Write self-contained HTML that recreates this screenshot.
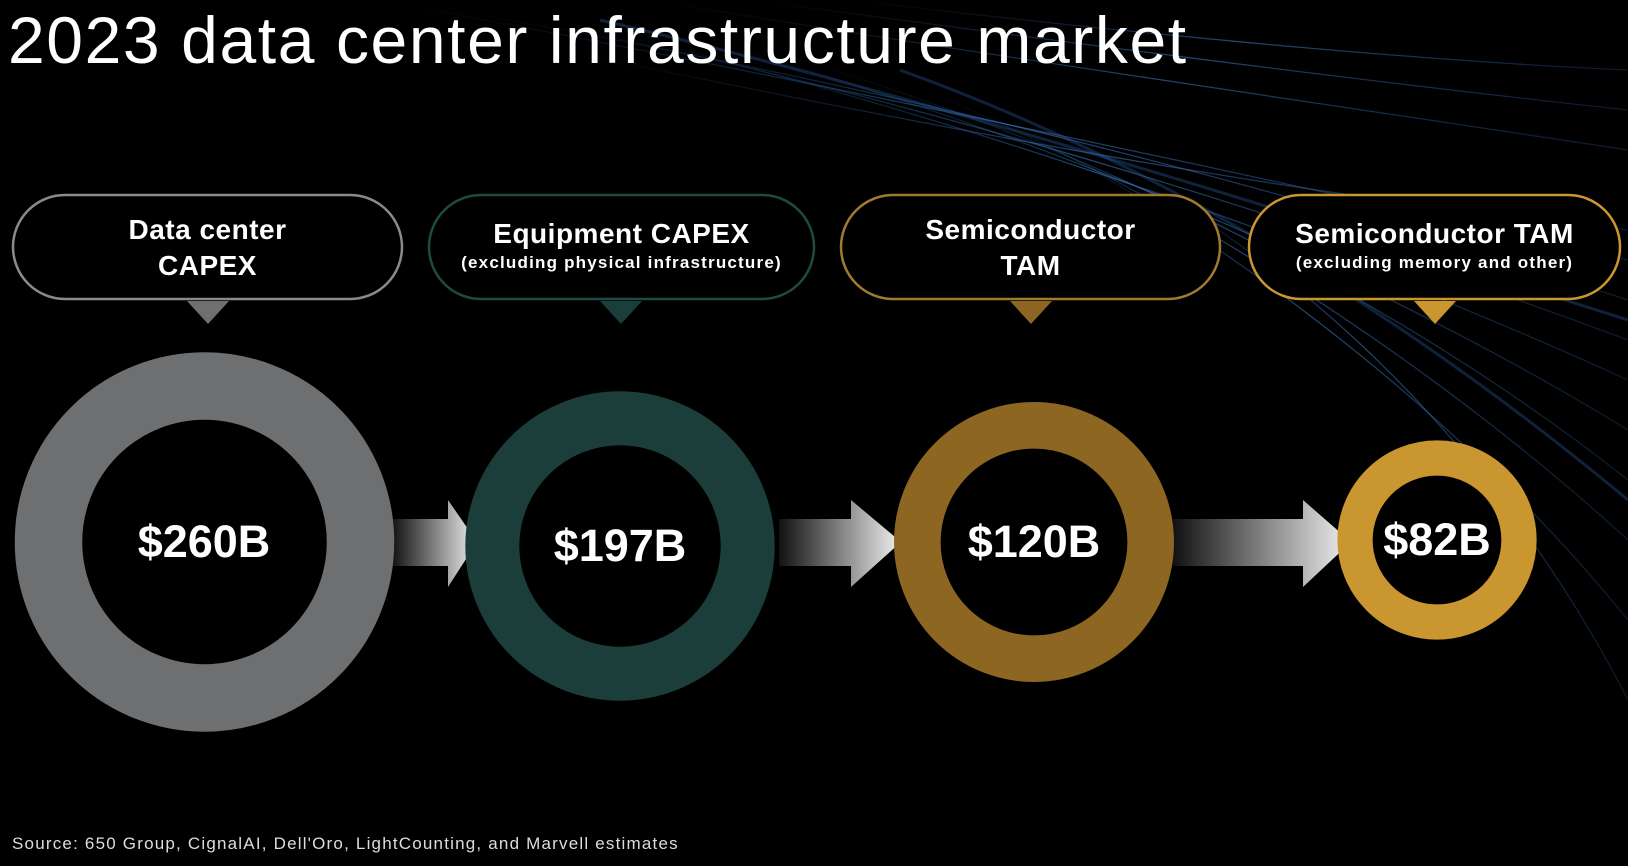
<!DOCTYPE html>
<html><head><meta charset="utf-8"><style>
html,body{margin:0;padding:0;background:#000;}
#c{position:relative;width:1628px;height:866px;overflow:hidden;background:#000;font-family:"Liberation Sans",Arial,sans-serif;color:#fff;}
.t{position:absolute;left:8px;top:2px;font-size:66px;white-space:nowrap;letter-spacing:1.6px;}
.src{position:absolute;left:12px;top:834px;font-size:17px;color:#ddd;letter-spacing:1.2px;white-space:nowrap;}
.lab{position:absolute;text-align:center;font-weight:bold;color:#fff;white-space:nowrap;}
.big{font-size:28px;line-height:36px;letter-spacing:0.5px;}
.sm{font-size:17px;letter-spacing:1.2px;line-height:22px;}
.val{position:absolute;font-weight:bold;font-size:45px;text-align:center;width:300px;height:60px;line-height:60px;}
</style></head><body><div id="c">
<svg width="1628" height="866" style="position:absolute;left:0;top:0">
<defs>
<linearGradient id="ag" x1="0" x2="1"><stop offset="0" stop-color="#111"/><stop offset="1" stop-color="#f2f2f2"/></linearGradient>
<linearGradient id="sg" x1="0" x2="1"><stop offset="0" stop-color="#1a4a8a" stop-opacity="0"/><stop offset="0.5" stop-color="#3a78c0" stop-opacity="0.6"/><stop offset="1" stop-color="#2a5a9a" stop-opacity="0.3"/></linearGradient>
</defs>
<g stroke="url(#sg)" fill="none" stroke-width="1.2">
<path d="M380 0 C700 60 1100 140 1628 260"/>
<path d="M450 10 C800 70 1200 160 1628 300"/>
<path d="M520 20 C850 80 1250 200 1628 340"/>
<path d="M600 30 C900 100 1300 230 1628 380"/>
<path d="M700 40 C1000 120 1350 260 1628 430"/>
<path d="M800 60 C1100 150 1400 300 1628 480"/>
<path d="M900 80 C1150 180 1420 350 1628 540"/>
<path d="M650 0 C950 50 1300 100 1628 150"/>
<path d="M750 0 C1050 40 1350 80 1628 110"/>
<path d="M1000 120 C1200 220 1450 400 1628 620"/>
<path d="M1100 160 C1300 260 1500 450 1628 700"/>
<path d="M560 50 C900 120 1250 190 1628 230"/>
<path d="M850 0 C1100 30 1400 60 1628 70"/>
</g>
<g stroke="#2a5fa8" stroke-opacity="0.35" fill="none" stroke-width="3">
<path d="M600 20 C900 90 1250 200 1628 320"/>
<path d="M900 70 C1150 160 1400 310 1628 500"/>
</g>
<g stroke-width="2.5">
<rect x="13" y="195" width="389" height="104" rx="52" fill="#000" stroke="#8a8a8a"/>
<polygon points="187,301 229,301 208,324" fill="#6e6f71"/>
<rect x="429" y="195" width="385" height="104" rx="52" fill="#000" stroke="#1f4a44"/>
<polygon points="600,301 642,301 621,324" fill="#1b3e3a"/>
<rect x="841" y="195" width="379" height="104" rx="52" fill="#000" stroke="#a07a30"/>
<polygon points="1010,301 1052,301 1031,324" fill="#8d6622"/>
<rect x="1249" y="195" width="371" height="104" rx="52" fill="#000" stroke="#c9962f"/>
<polygon points="1414,301 1456,301 1435,324" fill="#c9962f"/>
</g>
<polygon points="392,519 448,519 448,500 477,542 448,587 448,566 392,566" fill="url(#ag)"/>
<polygon points="779,519 851,519 851,500 901,542 851,587 851,566 779,566" fill="url(#ag)"/>
<polygon points="1173,519 1303,519 1303,500 1351,542 1303,587 1303,566 1173,566" fill="url(#ag)"/>
<circle cx="204.5" cy="542" r="156" fill="none" stroke="#6e6f71" stroke-width="67.5"/>
<circle cx="620" cy="546" r="127.7" fill="none" stroke="#1b3e3a" stroke-width="54"/>
<circle cx="1034" cy="542" r="116.7" fill="none" stroke="#8d6622" stroke-width="46.6"/>
<circle cx="1437" cy="540" r="82" fill="none" stroke="#c9962f" stroke-width="35.3"/>
</svg>
<div class="t">2023 data center infrastructure market</div>
<div class="lab big" style="left:13px;top:212px;width:389px">Data center<br>CAPEX</div>
<div class="lab" style="left:429px;top:216px;width:385px"><div class="big">Equipment CAPEX</div><div class="sm">(excluding physical infrastructure)</div></div>
<div class="lab big" style="left:841px;top:212px;width:379px">Semiconductor<br>TAM</div>
<div class="lab" style="left:1249px;top:216px;width:371px"><div class="big">Semiconductor TAM</div><div class="sm">(excluding memory and other)</div></div>
<div class="val" style="left:54px;top:512px">$260B</div>
<div class="val" style="left:470px;top:516px">$197B</div>
<div class="val" style="left:884px;top:512px">$120B</div>
<div class="val" style="left:1287px;top:510px">$82B</div>
<div class="src">Source: 650 Group, CignalAI, Dell'Oro, LightCounting, and Marvell estimates</div>
</div></body></html>
